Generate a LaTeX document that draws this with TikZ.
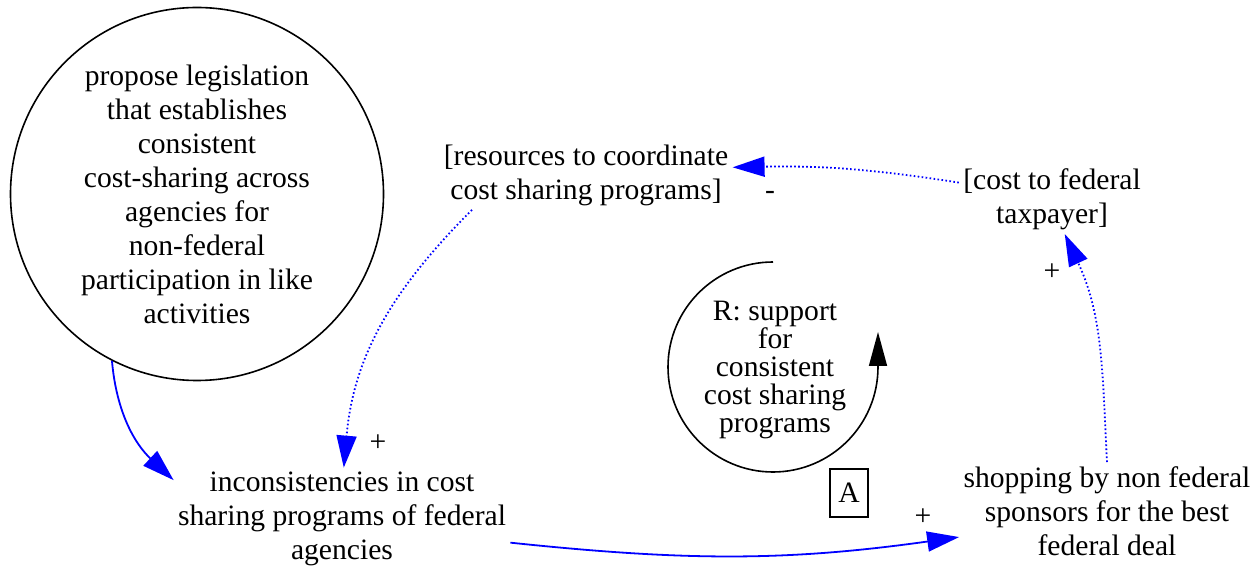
\documentclass[tikz,border=0pt]{standalone}
\usepackage{fontspec}
\setmainfont{Liberation Serif}
\usetikzlibrary{arrows.meta}

\begin{document}
\begin{tikzpicture}[
            x=0.5pt, y=0.5pt,
            var/.style={align=center, inner sep=2pt, font=\fontsize{14.8}{17}\selectfont},
            action/.style={var, circle, draw, line width=0.8pt, minimum size=186.5pt, inner sep=0pt},
            link/.style={draw=blue, line width=0.9pt, -{Triangle[length=16pt,width=10pt]}},
            dlink/.style={link, dash pattern=on 0.8pt off 1.2pt},
            sign/.style={font=\fontsize{14.8}{17}\selectfont, inner sep=1pt}
        ]
            \useasboundingbox (0,0) rectangle (1259,-577);

            % Variables
            \node[action] (legis) at (197,-194) {propose legislation\\that establishes\\consistent\\cost-sharing across\\agencies for\\non-federal\\participation in like\\activities};
            \node[var] (resources) at (586,-175) {[resources to coordinate\\cost sharing programs]};
            \node[var] (taxcost) at (1052,-199) {[cost to federal\\taxpayer]};
            \node[var] (incons) at (342,-519) {inconsistencies in cost\\sharing programs of federal\\agencies};
            \node[var] (shopping) at (1107,-511) {shopping by non federal\\sponsors for the best\\federal deal};

            % Loop
            \node[var, font=\fontsize{14.8}{14}\selectfont] (loopname) at (775,-370) {R: support\\for\\consistent\\cost sharing\\programs};
            \draw[line width=0.8pt, -{Triangle[length=17pt,width=9pt]}] (773,-262) arc[start angle=90, end angle=360, radius=105] -- ++(0,35);
            \node[draw, line width=0.6pt, minimum width=19pt, minimum height=24pt, var] (looptag) at (849,-493) {A};

            % Links
            \draw[link] (legis.243) to[out=-85,in=137] (incons.167);
            \draw[dlink] (resources.197) to[out=-135,in=85] (incons.88);
            \draw[dlink] (taxcost.170) to[bend right=5] (resources.3);
            \draw[dlink] (shopping.north) to[out=93,in=-65] (taxcost.-70);
            \draw[link] (incons.-8) to[out=-6,in=188] (shopping.190);

            % Signs
            \node[sign] (s1) at (378,-443) {+};
            \node[sign] (s2) at (770,-195) {-};
            \node[sign] (s3) at (1052,-272) {+};
            \node[sign] (s4) at (923,-517) {+};
        \end{tikzpicture}
\end{document}
